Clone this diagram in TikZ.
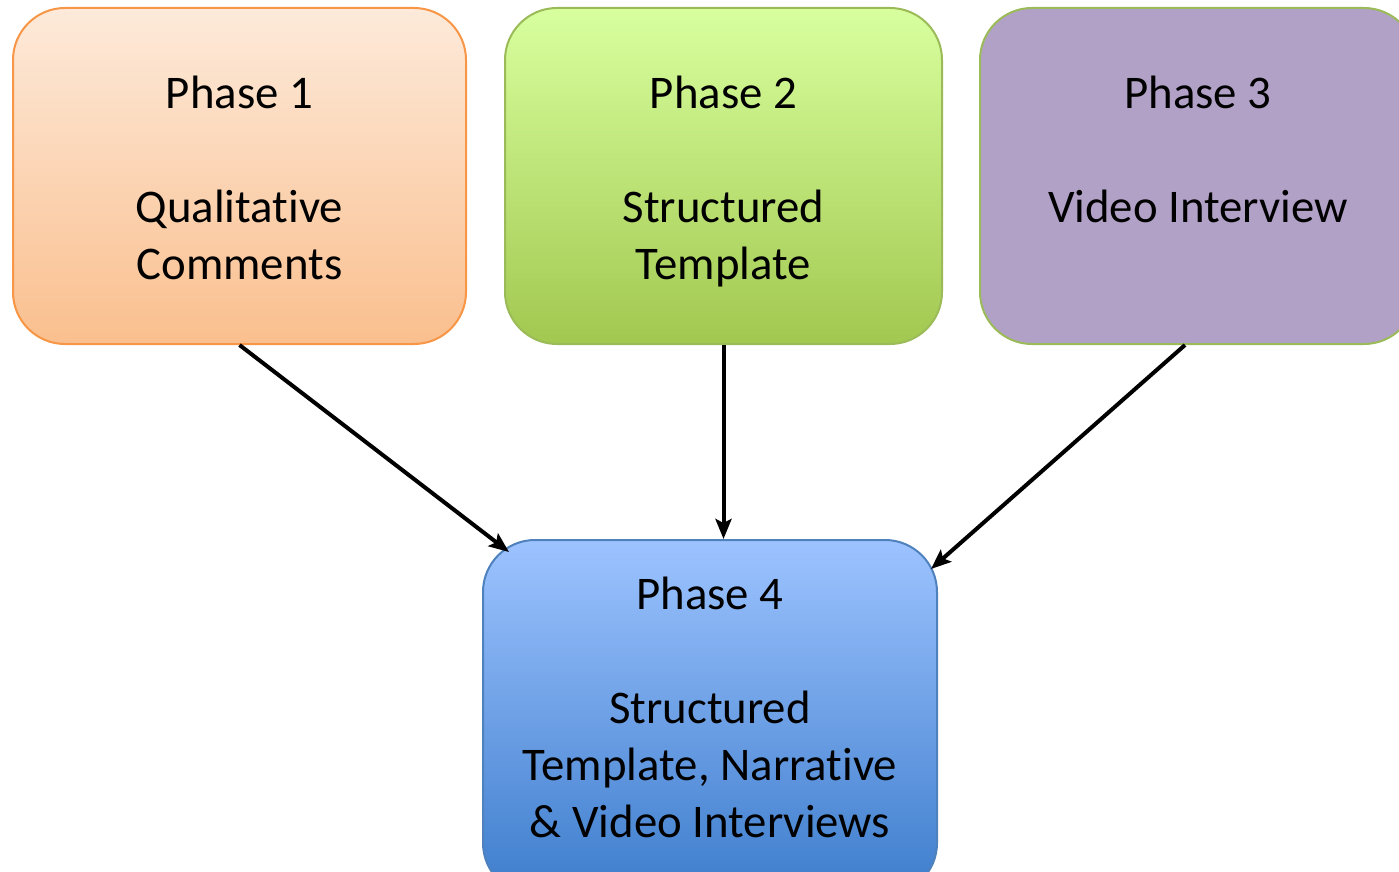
\documentclass[tikz,border=0pt]{standalone}
\usepackage{fontspec}
\setmainfont{Carlito}[Ligatures=NoCommon]
\usetikzlibrary{arrows.meta}
\definecolor{orangeline}{HTML}{F79646}
\definecolor{orangetop}{HTML}{FDEADA}
\definecolor{orangebot}{HTML}{FABF8E}
\definecolor{greenline}{HTML}{9BBB59}
\definecolor{greentop}{HTML}{D8FF9E}
\definecolor{greenbot}{HTML}{A2C850}
\definecolor{purplefill}{HTML}{B2A1C7}
\definecolor{blueline}{HTML}{4F81BD}
\definecolor{bluetop}{HTML}{9DC3FF}
\definecolor{bluebot}{HTML}{3D7DCC}
\tikzset{
  phase/.style={rectangle, rounded corners=26pt, line width=1pt, inner sep=0pt},
  phasetext/.style={align=center, anchor=base, inner sep=0pt,
    font=\fontsize{23.4}{28.5}\selectfont},
  flow/.style={-{Stealth[length=10pt,width=8pt,inset=2pt]}, line width=2pt}
}

\begin{document}
\begin{tikzpicture}[x=0.5pt, y=-0.5pt]
\useasboundingbox (0,0) rectangle (1399,872);
% Phase boxes
    \node[phase, draw=orangeline, top color=orangetop, bottom color=orangebot,
      minimum width=226.5pt, minimum height=168pt] (p1) at (239.5,176) {};
    \node[phase, draw=greenline, top color=greentop, bottom color=greenbot,
      minimum width=218.5pt, minimum height=168pt] (p2) at (723.5,176) {};
    \node[phase, draw=greenline, fill=purplefill,
      minimum width=218pt, minimum height=168pt] (p3) at (1198,176) {};
    \node[phase, draw=blueline, top color=bluetop, bottom color=bluebot,
      minimum width=227pt, minimum height=177.5pt] (p4) at (710,717.5) {};
% Texts (anchored on the last line)
    \node[phasetext] (t1) at (239.5,279) {Phase 1\\[28.5pt]Qualitative\\Comments};
    \node[phasetext] (t2) at (723.5,279) {Phase 2\\[28.5pt]Structured\\Template};
    \node[phasetext] (t3) at (1198,222) {Phase 3\\[28.5pt]Video Interview};
    \node[phasetext] (t4) at (710,837) {Phase 4\\[28.5pt]Structured\\Template, Narrative\\\& Video Interviews};
% Arrows into phase 4
    \draw[flow] (p1.south) -- ([xshift=13.5pt,yshift=-6.5pt]p4.north west);
    \draw[flow] (p2.south) -- (p2.south |- p4.north);
    \draw[flow] ([xshift=-6.5pt]p3.south) -- ([xshift=-3.5pt,yshift=-15pt]p4.north east);
\end{tikzpicture}
\end{document}
